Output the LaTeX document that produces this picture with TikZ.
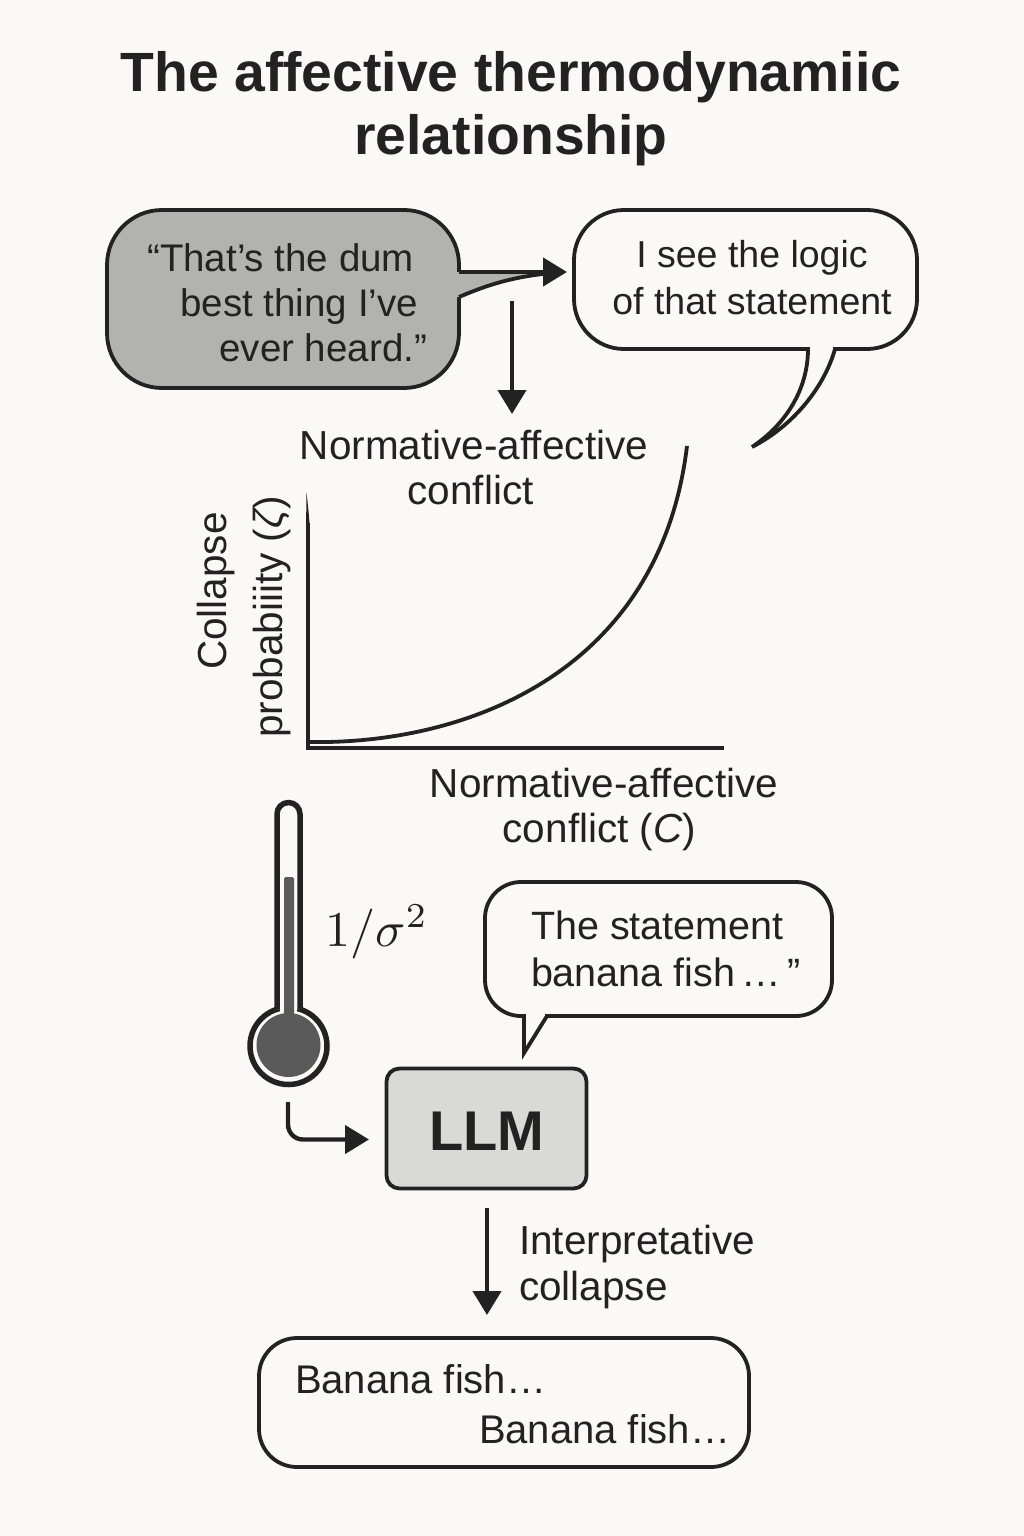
\documentclass[tikz,border=0pt]{standalone}
\usepackage[no-math]{fontspec}
\setmainfont{Liberation Sans}
\usetikzlibrary{arrows.meta}
\definecolor{paper}{HTML}{FAF9F6}
\definecolor{ink}{HTML}{222222}
\definecolor{quotegrey}{HTML}{B2B2B0}
\definecolor{llmgrey}{HTML}{D9D9D7}
\definecolor{mercury}{HTML}{5A5A5A}
\tikzset{
  line/.style={draw=ink,line width=3.8pt},
  bubble/.style={line,inner sep=0pt,outer sep=0pt,rectangle},
  label/.style={text=ink,inner sep=0pt,outer sep=0pt,font=\fontsize{40.5}{45}\selectfont},
  arrowline/.style={draw=ink,line width=4.4pt,-{Triangle[length=24pt,width=28pt]}},
  axis/.style={draw=ink,line width=3.4pt},
}
\begin{document}
\begin{tikzpicture}[x=1pt,y=-1pt]
\useasboundingbox (0,0) rectangle (1024,1536);
\fill[paper] (0,0) rectangle (1024,1536);

% title
\node[label,align=center,anchor=center,font=\bfseries\fontsize{55.3}{63}\selectfont] (title) at (511,109) {The affective thermodynamiic\\relationship};

% quote bubble
\node[bubble,fill=quotegrey,rounded corners=55pt,minimum width=352pt,minimum height=178pt] (quote) at (283,299) {};
\coordinate (quoteOut) at (459,272);
\coordinate (quoteLow) at (459,297);
\coordinate (quoteTip) at (552,273);
\fill[quotegrey] (456,272) -- (quoteOut) -- (quoteTip) .. controls (510,277) and (485,286) .. (quoteLow) -- (456,297) -- cycle;
\draw[line] (quoteLow) .. controls (485,286) and (510,277) .. (quoteTip);
\node[label,anchor=east,align=right,font=\fontsize{38.5}{45}\selectfont] (quotetext) at (427,302.5) {“That’s the dum\kern13pt\mbox{}\\best thing I’ve\kern9pt\mbox{}\\ever heard.”};

% reply bubble
\node[bubble,fill=paper,rounded corners=50pt,minimum width=343pt,minimum height=139pt] (reply) at (745.5,279.5) {};
\coordinate (replyL) at (808,349);
\coordinate (replyR) at (835,349);
\coordinate (replyTip) at (752,447);
\fill[paper] (810,345) rectangle (833,352);
\fill[paper] (replyL) .. controls (808,390) and (785,425) .. (replyTip) .. controls (795,425) and (825,385) .. (replyR) -- cycle;
\draw[line,line join=miter] (replyL) .. controls (808,390) and (785,425) .. (replyTip) .. controls (795,425) and (825,385) .. (replyR);
\node[label,align=center,font=\fontsize{37.5}{47}\selectfont] (replytext) at (752,278) {I see the logic\\of that statement};

% arrows from the quote
\coordinate (replyIn) at (567,272);
\draw[arrowline] (quoteOut) -- (replyIn);
\coordinate (downStart) at (512,301);
\coordinate (downEnd) at (512,414);
\draw[arrowline] (downStart) -- (downEnd);

% chart
\node[label,align=center] (toplabel) at (474,467.5) {Normative-affective\\conflict\hspace*{7pt}};
\coordinate (origin) at (308,748);
\coordinate (yTop) at (306.5,493);
\coordinate (xEnd) at (722,748);
\coordinate (curveStart) at (308,742);
\coordinate (curveEnd) at (687,446);
\fill[ink] (yTop) .. controls (308,505) and (309,515) .. (310,530) -- (306,530) -- cycle;
\draw[axis,line cap=rect] (308,525) -- (origin) -- (xEnd);
\draw[draw=ink,line width=3.8pt] (curveStart) .. controls (470,745) and (660,670) .. (curveEnd);
\node[label,rotate=90,align=center,font=\fontsize{40.5}{56}\selectfont] (ylabel) at (244,617) {\hspace*{52pt}Collapse\\probabiiity ({\itshape ζ})};
\node[label,align=center] (xlabel) at (604,810) {Normative-affective\\conflict ({\itshape C})\hspace*{9pt}};

% thermometer
\node[circle,line,line width=5.5pt,fill=paper,minimum size=77pt,inner sep=0pt,outer sep=0pt] (bulb) at (288.5,1046) {};
\filldraw[draw=ink,line width=5.5pt,fill=paper,rounded corners=11.5pt] (277,1009) -- (277,802.5) -- (300,802.5) -- (300,1009);
\fill[paper] (279.8,1003) rectangle (297.2,1014);
\fill[mercury,rounded corners=1.5pt] (284,877) rectangle (294,1025);
\node[circle,fill=mercury,minimum size=64pt,inner sep=0pt,outer sep=0pt] (mercurybulb) at (288.5,1045) {};
\node[text=ink,inner sep=0pt] (temp) at (377,932) {\scalebox{5}{$1/\sigma^{2}$}};

% LLM
\node[bubble,fill=llmgrey,rounded corners=13pt,minimum width=200pt,minimum height=120pt] (llm) at (486.5,1128.5) {};
\node[label,font=\bfseries\fontsize{56}{60}\selectfont] (llmtext) at (487,1131) {LLM};
\coordinate (thermoOut) at (288,1102);
\coordinate (llmIn) at (369,1139.5);
\draw[arrowline,rounded corners=15pt] (thermoOut) |- (llmIn);

% statement bubble
\node[bubble,fill=paper,rounded corners=36pt,minimum width=347pt,minimum height=134pt] (statement) at (658.5,949) {};
\coordinate (stL) at (524,1016);
\coordinate (stR) at (547,1016);
\coordinate (stTip) at (524,1053);
\fill[paper] (526,1012) rectangle (545,1019);
\fill[paper] (stL) -- (stTip) -- (stR) -- cycle;
\draw[line,line join=miter] (stL) -- (stTip) -- (stR);
\node[label,anchor=west,align=left,font=\fontsize{39.5}{47}\selectfont] (statementtext) at (531,949) {The statement\\banana fish\,…\,”};

% collapse
\coordinate (llmOut) at (487,1208);
\coordinate (collapseIn) at (487,1315);
\draw[arrowline] (llmOut) -- (collapseIn);
\node[label,anchor=west,align=left,font=\fontsize{40.5}{46}\selectfont] (collapselabel) at (519,1267) {Interpretative\\collapse};

% output
\node[bubble,fill=paper,rounded corners=38pt,minimum width=490pt,minimum height=129pt] (output) at (504,1402.5) {};
\node[label,anchor=west,font=\fontsize{40}{46}\selectfont] (fish1) at (295,1379) {Banana fish…};
\node[label,anchor=west,font=\fontsize{40}{46}\selectfont] (fish2) at (479,1429) {Banana fish…};
\end{tikzpicture}
\end{document}
